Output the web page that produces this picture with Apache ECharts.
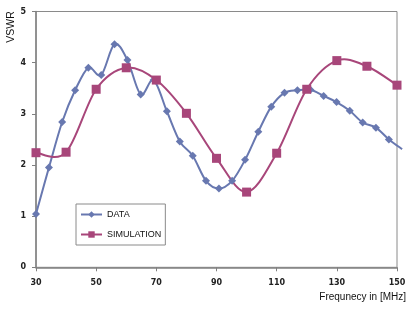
<!DOCTYPE html>
<html>
<head>
<meta charset="utf-8">
<script src="https://cdn.jsdelivr.net/npm/echarts@6/dist/echarts.min.js"></script>
<style>
html,body{margin:0;padding:0;background:#fff;}
#c{width:415px;height:313px;}
</style>
</head>
<body>
<div id="c"></div>
<script>
// DATA (measured) series
const dataFreq = [30, 34.3, 38.7, 43.0, 47.4, 51.7, 56.1, 60.4, 64.8, 69.1, 73.5, 77.8, 82.1, 86.5, 90.8, 95.2, 99.5, 103.9, 108.2, 112.6, 116.9, 121.2, 125.6, 129.9, 134.3, 138.6, 143.0, 147.3, 151.7];
const dataVswr = [1.04, 1.95, 2.84, 3.46, 3.90, 3.76, 4.36, 4.05, 3.38, 3.66, 3.05, 2.46, 2.18, 1.69, 1.54, 1.69, 2.10, 2.65, 3.14, 3.41, 3.46, 3.47, 3.35, 3.23, 3.06, 2.83, 2.73, 2.50, 2.31];
// SIMULATION series
const simFreq = [30, 40, 50, 60, 70, 80, 90, 100, 110, 120, 130, 140, 150];
const simVswr = [2.24, 2.25, 3.48, 3.90, 3.66, 3.01, 2.13, 1.47, 2.23, 3.48, 4.04, 3.93, 3.56];
// axes
const xTicks = [30, 50, 70, 90, 110, 130, 150];
const yTicks = [0, 1, 2, 3, 4, 5];

const xMin = 30, xMax = 150;
const blue = '#6878b0';
const red = '#a8467a';

const dataPoints = dataFreq.map((f, i) => {
  const p = {value: [f, dataVswr[i]]};
  if (f > xMax) p.symbol = 'none';
  return p;
});
const simPoints = simFreq.map((f, i) => [f, simVswr[i]]);

// Excel-like (Catmull-Rom) smoothed segment, computed through the axis scales
function segmentRenderer(xs, ys, color) {
  return function (params, api) {
    const i = params.dataIndex;
    const n = xs.length;
    if (i >= n - 1) return null;
    const P = k => api.coord([xs[Math.max(0, Math.min(n - 1, k))], ys[Math.max(0, Math.min(n - 1, k))]]);
    const p0 = P(i - 1), p1 = P(i), p2 = P(i + 1), p3 = P(i + 2);
    return {
      type: 'bezierCurve',
      shape: {
        x1: p1[0], y1: p1[1], x2: p2[0], y2: p2[1],
        cpx1: p1[0] + (p2[0] - p0[0]) / 6, cpy1: p1[1] + (p2[1] - p0[1]) / 6,
        cpx2: p2[0] - (p3[0] - p1[0]) / 6, cpy2: p2[1] - (p3[1] - p1[1]) / 6
      },
      style: {stroke: color, lineWidth: 2, fill: null},
      silent: true
    };
  };
}

const chart = echarts.init(document.getElementById('c'), null, {renderer: 'canvas'});
chart.setOption({
  animation: false,
  backgroundColor: '#fff',
  grid: {left: 36, right: 18, top: 11.5, bottom: 45.7, show: true, borderColor: '#8a8a8a', borderWidth: 1, backgroundColor: 'transparent'},
  legend: {
    orient: 'vertical', left: 76, top: 204,
    padding: [6, 4, 6, 4], itemGap: 11, itemWidth: 21, itemHeight: 8,
    backgroundColor: '#fff', borderColor: '#8a8a8a', borderWidth: 1,
    textStyle: {fontFamily: 'Liberation Sans', fontSize: 9, color: '#111'},
    data: [
      {name: 'DATA', lineStyle: {color: blue, width: 2, opacity: 1}},
      {name: 'SIMULATION', lineStyle: {color: red, width: 2, opacity: 1}}
    ]
  },
  xAxis: {
    type: 'value', min: xMin, max: xMax, interval: 20,
    axisLine: {show: true, onZero: false, lineStyle: {color: '#808080', width: 1.5}},
    axisTick: {show: true, inside: false, length: 4, lineStyle: {color: '#808080'}},
    axisLabel: {fontFamily: 'DejaVu Sans', fontWeight: 'bold', fontSize: 8, color: '#222', margin: 12,
      formatter: v => xTicks.includes(v) ? String(v) : ''},
    splitLine: {show: false}
  },
  yAxis: {
    type: 'value', min: 0, max: 5, interval: 1,
    axisLine: {show: true, onZero: false, lineStyle: {color: '#808080', width: 1.5}},
    axisTick: {show: true, inside: false, length: 4, lineStyle: {color: '#808080'}},
    axisLabel: {fontFamily: 'DejaVu Sans', fontWeight: 'bold', fontSize: 8, color: '#222', margin: 10,
      formatter: v => yTicks.includes(v) ? String(v) : ''},
    splitLine: {show: false}
  },
  graphic: [
    {type: 'text', x: 11, y: 27, rotation: Math.PI / 2,
      style: {text: 'VSWR', fontFamily: 'Liberation Sans', fontSize: 10.5, fill: '#111', align: 'center', verticalAlign: 'middle'}},
    {type: 'text', x: 406, y: 297,
      style: {text: 'Frequnecy in [MHz]', fontFamily: 'Liberation Sans', fontSize: 10, fill: '#111', align: 'right', verticalAlign: 'middle'}}
  ],
  series: [
    {
      name: 'DATA', type: 'line', data: dataPoints, clip: false,
      symbol: 'diamond', symbolSize: 8,
      lineStyle: {color: blue, width: 2, opacity: 0}, itemStyle: {color: blue}, z: 4
    },
    {
      name: 'SIMULATION', type: 'line', data: simPoints, clip: false,
      symbol: 'rect', symbolSize: 9,
      lineStyle: {color: red, width: 2, opacity: 0}, itemStyle: {color: red}, z: 5
    },
    {
      name: 'DATA curve', type: 'custom', data: dataPoints.map(p => p.value), clip: false,
      renderItem: segmentRenderer(dataFreq, dataVswr, blue), z: 2, silent: true
    },
    {
      name: 'SIMULATION curve', type: 'custom', data: simPoints, clip: false,
      renderItem: segmentRenderer(simFreq, simVswr, red), z: 3, silent: true
    }
  ]
});
</script>
</body>
</html>
